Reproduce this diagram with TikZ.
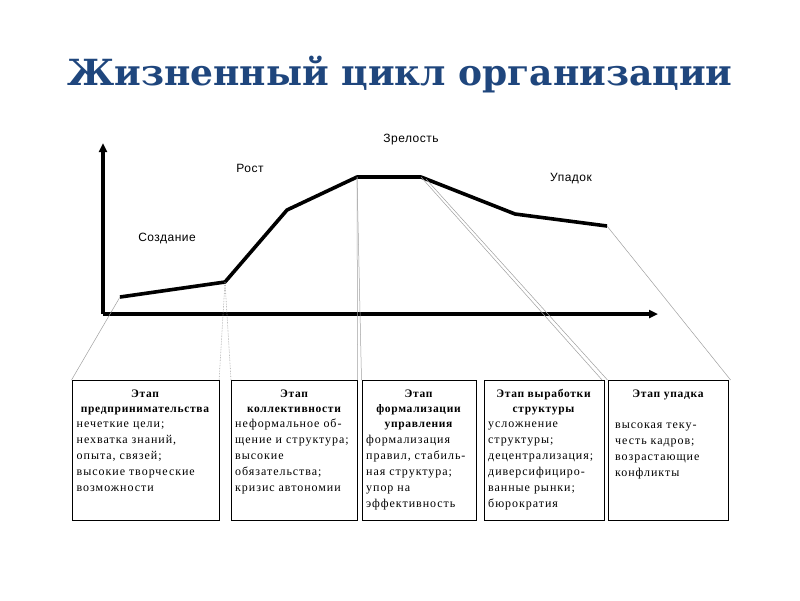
\documentclass[tikz,border=0pt]{standalone}
\usepackage{fontspec}
\setmainfont{Liberation Serif}
\newfontfamily\titlefont{DejaVu Serif}
\newfontfamily\boxfont[LetterSpace=8]{Liberation Serif}
\newfontfamily\headfont[LetterSpace=6]{Liberation Serif}
\newfontfamily\lblfont[LetterSpace=4]{Liberation Sans}
\usetikzlibrary{arrows.meta}
\definecolor{titleblue}{RGB}{31,70,125}
\tikzset{
  axisline/.style={line width=3.6pt,-{Triangle[length=9pt,width=8pt]}},
  curveline/.style={line width=3.6pt,line join=round},
  guide/.style={gray!75,line width=0.5pt},
  guidedot/.style={gray!75,line width=0.6pt,densely dotted},
  stagebox/.style={draw,line width=0.6pt,inner sep=0pt,anchor=north west},
  headtxt/.style={inner sep=0pt,anchor=north,align=center,font=\headfont\bfseries\fontsize{11.5}{15}\selectfont},
  bodytxt/.style={inner sep=0pt,anchor=north west,align=left,font=\boxfont\fontsize{12}{16}\selectfont},
  lbl/.style={inner sep=0pt,font=\lblfont\fontsize{12}{14}\selectfont}
}
\begin{document}
\begin{tikzpicture}[x=1pt,y=-1pt]
\useasboundingbox (0,0) rectangle (800,600);
\node[inner sep=0pt,text=titleblue,font=\titlefont\bfseries\fontsize{36}{42}\selectfont] (title) at (400,75) {Жизненный цикл организации};
% axes
\coordinate (o) at (103,314);
\coordinate (ytop) at (103,143);
\coordinate (xend) at (658,314);
\draw[axisline] (o) -- (ytop);
\draw[axisline] (o) -- (xend);
% curve points
\coordinate (p1) at (120,297);
\coordinate (p2) at (225,282);
\coordinate (p3) at (287,210);
\coordinate (p4) at (357,177);
\coordinate (p5) at (421,177);
\coordinate (p5b) at (426,179);
\coordinate (p6) at (515,214);
\coordinate (p7) at (607,226);
\draw[curveline] (p1) -- (p2) -- (p3) -- (p4) -- (p5) -- (p6) -- (p7);
% labels
\node[lbl] (l1) at (167,239) {Создание};
\node[lbl] (l2) at (250,168) {Рост};
\node[lbl] (l3) at (411,140) {Зрелость};
\node[lbl] (l4) at (571,179) {Упадок};
% boxes
\node[stagebox,minimum width=147pt,minimum height=140pt] (b1) at (71.5,380) {};
\node[stagebox,minimum width=126pt,minimum height=140pt] (b2) at (231,380) {};
\node[stagebox,minimum width=114pt,minimum height=140pt] (b3) at (361.5,380) {};
\node[stagebox,minimum width=120pt,minimum height=140pt] (b4) at (483.5,380) {};
\node[stagebox,minimum width=120pt,minimum height=140pt] (b5) at (608,380) {};
% guide lines
\draw[guide] (p1) -- (b1.north west);
\draw[guidedot] (p2) -- (b1.north east);
\draw[guidedot] (p2) -- (b2.north west);
\draw[guide] (p4) -- (b2.north east);
\draw[guide] (p4) -- (b3.north west);
\draw[guide] (p5) -- ([xshift=-2pt]b4.north east);
\draw[guide] (p5b) -- ([xshift=-0.5pt]b5.north west);
\draw[guide] (p7) -- ([xshift=2pt]b5.north east);
% box texts
\node[headtxt] (h1) at (145,386.5) {\strut Этап\\предпринимательства};
\node[bodytxt] (t1) at (76.5,416) {\strut нечеткие цели;\\нехватка знаний,\\опыта, связей;\\высокие творческие\\возможности};
\node[headtxt] (h2) at (294,386.5) {\strut Этап\\коллективности};
\node[bodytxt] (t2) at (235,416) {\strut неформальное об-\\щение и структура;\\высокие\\обязательства;\\кризис автономии};
\node[headtxt] (h3) at (418.5,386.5) {\strut Этап\\формализации\\управления};
\node[bodytxt] (t3) at (366,432) {\strut формализация\\правил, стабиль-\\ная структура;\\упор на\\эффективность};
\node[headtxt] (h4) at (543.5,386.5) {\strut Этап выработки\\структуры};
\node[bodytxt] (t4) at (488,416) {\strut усложнение\\структуры;\\децентрализация;\\диверсифициро-\\ванные рынки;\\бюрократия};
\node[headtxt] (h5) at (668,386.5) {\strut Этап упадка};
\node[bodytxt] (t5) at (615,417) {\strut высокая теку-\\честь кадров;\\возрастающие\\конфликты};
\end{tikzpicture}
\end{document}
